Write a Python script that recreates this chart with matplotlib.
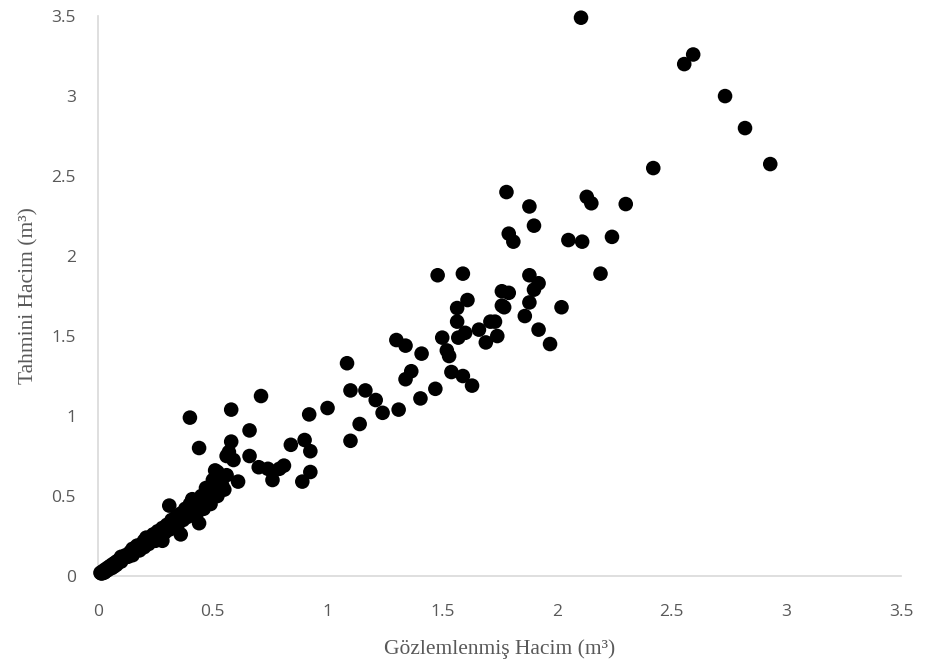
import numpy as np
import matplotlib.pyplot as plt

obs_low = [0.01, 0.015, 0.02, 0.025, 0.03, 0.03, 0.04, 0.04, 0.05, 0.05, 0.06, 0.06,
           0.07, 0.07, 0.08, 0.08, 0.09, 0.10, 0.10, 0.11, 0.12, 0.13, 0.14, 0.15,
           0.15, 0.16, 0.17, 0.18, 0.19, 0.20, 0.20, 0.21, 0.22, 0.23, 0.24, 0.25,
           0.26, 0.27, 0.28, 0.28, 0.29, 0.30, 0.31, 0.31, 0.32, 0.33, 0.34, 0.35,
           0.36, 0.36, 0.37, 0.38, 0.39, 0.40, 0.40, 0.41, 0.42, 0.43, 0.44, 0.44,
           0.45, 0.46, 0.47, 0.48, 0.49, 0.50, 0.50, 0.51, 0.52, 0.52, 0.53, 0.54,
           0.55, 0.56]
est_low = [0.02, 0.015, 0.03, 0.02, 0.04, 0.025, 0.035, 0.05, 0.045, 0.06, 0.05, 0.07,
           0.06, 0.08, 0.07, 0.09, 0.10, 0.09, 0.12, 0.11, 0.13, 0.12, 0.15, 0.13,
           0.17, 0.16, 0.19, 0.16, 0.20, 0.18, 0.22, 0.24, 0.20, 0.23, 0.26, 0.22,
           0.28, 0.25, 0.30, 0.22, 0.27, 0.32, 0.29, 0.44, 0.35, 0.31, 0.37, 0.33,
           0.26, 0.39, 0.35, 0.42, 0.37, 0.45, 0.40, 0.48, 0.43, 0.39, 0.33, 0.46,
           0.50, 0.42, 0.55, 0.48, 0.45, 0.60, 0.52, 0.56, 0.65, 0.50, 0.62, 0.57,
           0.54, 0.63]

obs_mid = [0.40, 0.44, 0.51, 0.58, 0.58, 0.57, 0.59, 0.56, 0.61, 0.66, 0.66, 0.71,
           0.70, 0.74, 0.76, 0.79, 0.81, 0.84, 0.89, 0.90, 0.92, 0.925, 0.925, 1.00,
           1.085, 1.10, 1.165, 1.10, 1.21, 1.24, 1.14, 1.31, 1.30, 1.34, 1.41, 1.365,
           1.34, 1.405, 1.47, 1.48, 1.59, 1.50, 1.52, 1.53, 1.54, 1.59, 1.63, 1.565,
           1.565, 1.60, 1.57, 1.66, 1.69, 1.71, 1.73, 1.74, 1.61, 1.76, 1.79, 1.76,
           1.77, 1.88, 1.92, 1.90, 1.86, 1.92, 1.97, 1.88, 1.78, 1.88, 1.90, 1.79,
           1.81, 2.02, 2.05, 2.11, 2.19, 2.24, 2.13, 2.15, 2.30, 2.42, 2.105, 2.555,
           2.594, 2.733, 2.82, 2.93]
est_mid = [0.99, 0.80, 0.66, 1.04, 0.84, 0.775, 0.725, 0.75, 0.59, 0.91, 0.75, 1.125,
           0.68, 0.67, 0.60, 0.67, 0.69, 0.82, 0.59, 0.85, 1.01, 0.78, 0.65, 1.05,
           1.33, 1.16, 1.16, 0.845, 1.10, 1.02, 0.95, 1.04, 1.475, 1.44, 1.39, 1.28,
           1.23, 1.11, 1.17, 1.88, 1.89, 1.49, 1.41, 1.375, 1.275, 1.25, 1.19, 1.675,
           1.59, 1.52, 1.49, 1.54, 1.46, 1.59, 1.59, 1.50, 1.725, 1.78, 1.77, 1.69,
           1.68, 1.71, 1.83, 1.79, 1.625, 1.54, 1.45, 1.88, 2.40, 2.31, 2.19, 2.14,
           2.09, 1.68, 2.10, 2.09, 1.89, 2.12, 2.37, 2.33, 2.325, 2.55, 3.49, 3.20,
           3.26, 3.00, 2.80, 2.575]

obs = np.array(obs_low + obs_mid)
est = np.array(est_low + est_mid)

ticks = [0, 0.5, 1, 1.5, 2, 2.5, 3, 3.5]
tick_labels = ['0', '0.5', '1', '1.5', '2', '2.5', '3', '3.5']

fig = plt.figure(figsize=(9.26, 6.71), dpi=100)
ax = fig.add_axes([0.106, 0.1416, 0.867, 0.8344])

ax.scatter(obs, est, s=110, color='black', edgecolors='none', clip_on=False, zorder=3)

ax.set_xlim(0, 3.5)
ax.set_ylim(0, 3.5)
ax.set_xticks(ticks, tick_labels)
ax.set_yticks(ticks, tick_labels)
ax.tick_params(length=0, labelsize=12.5, labelcolor='#595959')
ax.tick_params(axis='x', pad=20)
ax.tick_params(axis='y', pad=16)
for lbl in ax.get_xticklabels() + ax.get_yticklabels():
    lbl.set_family('Open Sans')

for side in ['top', 'right']:
    ax.spines[side].set_visible(False)
for side in ['left', 'bottom']:
    ax.spines[side].set_color('#d9d9d9')
    ax.spines[side].set_linewidth(1.2)

ax.set_xlabel('Gözlemlenmiş Hacim (m³)', family='Liberation Serif', fontsize=15.5,
              color='#595959', labelpad=14)
ax.set_ylabel('Tahmini Hacim (m³)', family='Liberation Serif', fontsize=15.5,
              color='#595959', labelpad=9)

fig.savefig('out.png', dpi=100)
